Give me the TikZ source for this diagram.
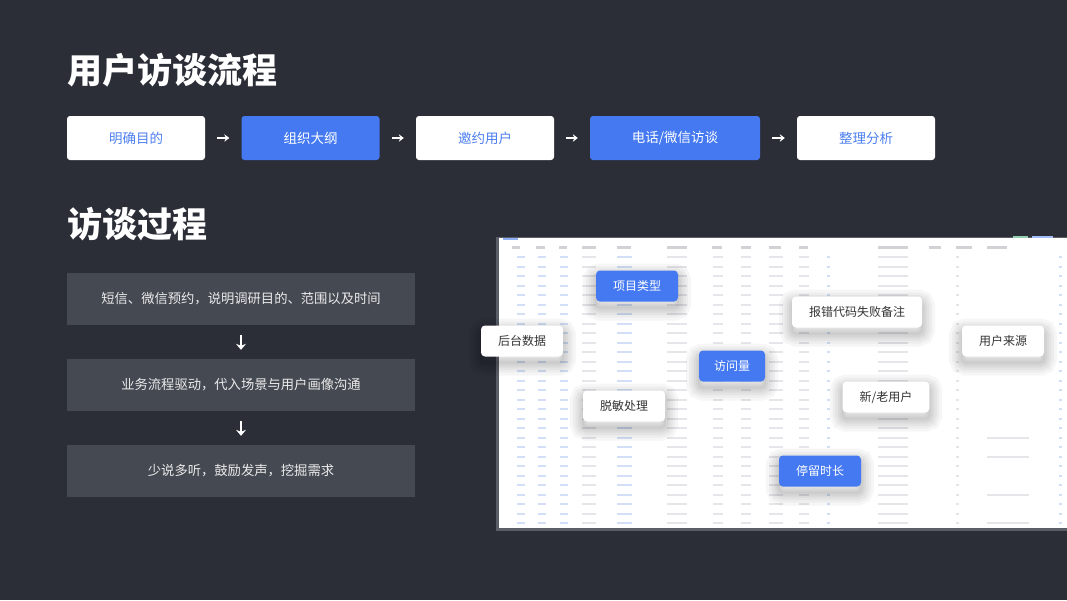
\documentclass[tikz,border=0pt]{standalone}
\usepackage{fontspec}
\setmainfont{Noto Sans CJK SC}
\usetikzlibrary{arrows.meta}
\definecolor{cBg}{HTML}{2B2E36}
\definecolor{cBlue}{HTML}{4479F2}
\definecolor{cBlueTxt}{HTML}{4D7FEE}
\definecolor{cStep}{HTML}{454952}
\definecolor{cInk}{HTML}{333333}
\definecolor{cEdge}{HTML}{5A5E67}
\definecolor{cCell}{HTML}{E4E6EA}
\definecolor{cCellB}{HTML}{D2DFF6}
\definecolor{cGreen}{HTML}{4CAF7A}
\tikzset{
  >=Stealth,
  flowbox/.style  ={rounded corners=3pt,minimum width=138pt,minimum height=44pt,
                    inner sep=0pt,font=\fontsize{13.5}{16}\selectfont},
  flowwhite/.style={flowbox,fill=white,text=cBlueTxt},
  flowblue/.style ={flowbox,fill=cBlue,text=white},
  stepbox/.style  ={fill=cStep,minimum width=348pt,minimum height=52pt,inner sep=0pt,
                    text=white!92!black,font=\fontsize{13.3}{16}\selectfont},
  halo/.style     ={preaction={draw=black,opacity=.035,line width=#1,
                    transform canvas={yshift=-6pt}}},
  tag/.style      ={rounded corners=4pt,minimum height=31pt,inner xsep=17pt,inner ysep=0pt,
                    font=\fontsize{12}{14}\selectfont,
                    halo=26pt,halo=20pt,halo=15pt,halo=10pt,halo=6pt,halo=2pt},
  tagw/.style     ={tag,fill=white,text=cInk},
  tagb/.style     ={tag,fill=cBlue,text=white},
  ar/.style       ={-{Stealth[length=5pt,width=7.5pt]},line width=1.4pt,white},
  heading/.style  ={anchor=west,text=white,inner sep=0pt,
                    font=\fontsize{35}{40}\selectfont\bfseries},
}

\begin{document}
\begin{tikzpicture}[x=1pt,y=-1pt]
\fill[cBg] (0,0) rectangle (1067,600);
\useasboundingbox (0,0) rectangle (1067,600);

% headings
\node[heading] (h1) at (67,70) {用户访谈流程};
\node[heading] (h2) at (67,224) {访谈过程};

% top flow
\node[flowwhite] (f1) at (136,138) {明确目的};
\node[flowblue]  (f2) at (310.5,138) {组织大纲};
\node[flowwhite] (f3) at (485,138) {邀约用户};
\node[flowblue,minimum width=170pt] (f4) at (675,138) {电话/微信访谈};
\node[flowwhite] (f5) at (866,138) {整理分析};

\foreach \a/\b in {f1/f2,f2/f3,f3/f4,f4/f5}
  \draw[ar,shorten <=12pt,shorten >=12pt] (\a) -- (\b);

% left steps
\node[stepbox] (s1) at (241,299) {短信、微信预约，说明调研目的、范围以及时间};
\node[stepbox] (s2) at (241,385) {业务流程驱动，代入场景与用户画像沟通};
\node[stepbox] (s3) at (241,471) {少说多听，鼓励发声，挖掘需求};

\draw[ar,-{Stealth[length=6pt,width=10pt]},shorten <=10pt,shorten >=9pt] (s1) -- (s2);
\draw[ar,-{Stealth[length=6pt,width=10pt]},shorten <=10pt,shorten >=9pt] (s2) -- (s3);

% blurred data table
\fill[cEdge] (496,237) rectangle (1067,531);
\fill[white] (499,238) rectangle (1067,528);
\fill[cBlue!60] (503,238) rectangle (518,239.5);
\fill[cGreen!60] (1013,236) rectangle (1028,238);
\fill[cBlue!50] (1032,236) rectangle (1053,238);
\foreach \cx/\w in {512/8,536/9,559/8,582/14,617/14,667/20,712/10,741/10,769/12,
                    799/9,878/30,929/12,956/16,987/20}
  \fill[cCell!80!gray] (\cx,246) rectangle (\cx+\w,248.5);
\foreach \r in {0,...,28}{
  \pgfmathsetmacro\yy{257+\r*9.5}
  \foreach \cx/\w/\c in {517/8/cCellB,538/8/cCellB,560/8/cCellB,582/14/cCell,
                         617/15/cCellB,667/20/cCell,713/10/cCell,741/10/cCell,
                         769/14/cCell,799/10/cCell,827/3/cCellB,878/30/cCell,
                         956/3/cCell,1059/3/cCellB}
    \fill[\c] (\cx,\yy-1) rectangle (\cx+\w,\yy+1);
}
\foreach \r in {19,21,25,28}
  \fill[cCell] (987,257+\r*9.5-1) rectangle (1029,257+\r*9.5+1);

% tags
\node[tagb] (t1) at (637,286) {项目类型};
\node[tagw] (t2) at (522,341) {后台数据};
\node[tagb,inner xsep=15pt] (t3) at (732,366) {访问量};
\node[tagw] (t4) at (857,312) {报错代码失败备注};
\node[tagw] (t5) at (1003,341) {用户来源};
\node[tagw] (t6) at (886,397) {新/老用户};
\node[tagw] (t7) at (624,406) {脱敏处理};
\node[tagb] (t8) at (820,471) {停留时长};
\end{tikzpicture}
\end{document}
